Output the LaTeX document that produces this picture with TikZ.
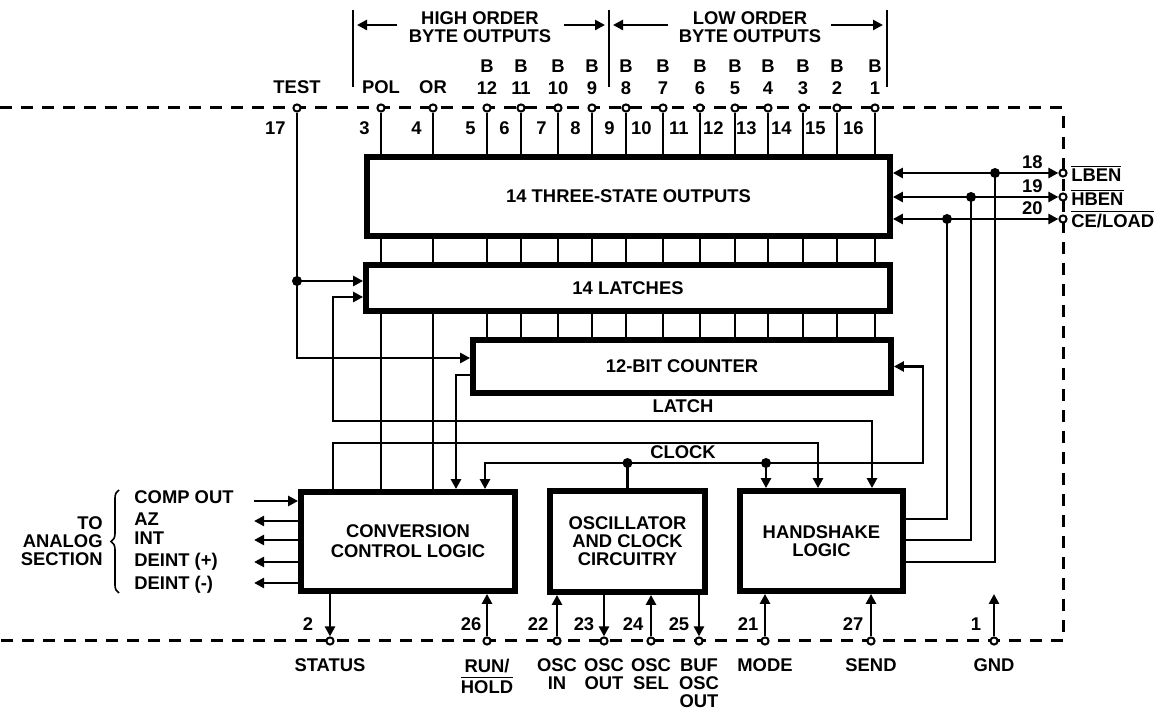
\documentclass[tikz,border=0pt]{standalone}
\usepackage{fontspec}
\setmainfont{Liberation Sans}
\usetikzlibrary{arrows.meta,decorations.pathreplacing}
\newcommand{\ovl}[1]{$\overline{\mbox{#1}}$}

\begin{document}
\begin{tikzpicture}[x=0.5pt,y=-0.5pt,font=\fontsize{9.2}{9}\selectfont\bfseries,
	line width=1.4pt,>={Triangle[length=5pt,width=5pt]},
	blk/.style={draw,line width=2.9pt,inner sep=0pt,align=center},
	pin/.style={circle,draw,fill=white,line width=1pt,inner sep=0pt,minimum size=3.6pt},
	dot/.style={circle,fill,inner sep=0pt,minimum size=5pt},
	lbl/.style={inner sep=0pt,text height=6.6pt,text depth=0pt},
	pkg/.style={dash pattern=on 6pt off 4.5pt,line width=1.5pt}]
\useasboundingbox (0,0) rectangle (1164,710);
\draw[pkg] (0,108) -- (1063,108) -- (1063,641) -- (0,641);

% blocks
\node[blk,minimum width=261.5pt,minimum height=39.5pt] (tso) at (628.5,196.5) {14 THREE-STATE OUTPUTS};
\node[blk,minimum width=262pt,minimum height=23pt] (lat) at (628,288) {14 LATCHES};
\node[blk,minimum width=209pt,minimum height=26.5pt] (cnt) at (682,366.5) {12-BIT COUNTER};
\node[blk,minimum width=107pt,minimum height=49.5pt] (ccl) at (408,541.5) {CONVERSION\\[1pt]CONTROL LOGIC};
\node[blk,minimum width=77.5pt,minimum height=50.5pt] (osc) at (627.5,541.5) {OSCILLATOR\\AND CLOCK\\CIRCUITRY};
\node[blk,minimum width=81.5pt,minimum height=50pt] (hsl) at (821.5,541) {HANDSHAKE\\LOGIC};

% top pins
\foreach \n/\x in {17/297,3/381,4/433,5/487,6/521,7/558,8/592,9/626,10/663,11/700,12/735,13/768,14/803,15/837,16/875}{
	\node[pin] (p\n) at (\x,108) {};
	\node[lbl,anchor=east] at (\x-10,128) {\n};
}
\node[lbl] at (297,87) {TEST};
\node[lbl] at (381,87) {POL};
\node[lbl] at (433,87) {OR};
\foreach \b/\x in {12/487,11/521,10/558,9/592,8/626,7/663,6/700,5/735,4/768,3/803,2/837,1/875}
	\node[align=center,anchor=north,inner sep=0pt] at (\x,58.4) {B\\[2pt]\b};
\draw (353,10) -- (353,87);
\draw (609,10) -- (609,87);
\draw (887,10) -- (887,87);
\draw[->] (397,25) -- (357,25);
\draw[->] (564,25) -- (605,25);
\draw[->] (668,25) -- (613,25);
\draw[->] (831,25) -- (883,25);
\node[align=center,anchor=north,inner sep=0pt] at (480,10.4) {HIGH ORDER\\BYTE OUTPUTS};
\node[align=center,anchor=north,inner sep=0pt] at (750,10.4) {LOW ORDER\\BYTE OUTPUTS};

% data lines
\foreach \n in {3,...,16}{
	\draw (p\n) -- (tso.north -| p\n);
	\draw (tso.south -| p\n) -- (lat.north -| p\n);
}
\foreach \n in {5,...,16} \draw (lat.south -| p\n) -- (cnt.north -| p\n);
\foreach \n in {3,4} \draw (lat.south -| p\n) -- (ccl.north -| p\n);

% right pins
\foreach \n/\y/\t in {18/173/LBEN,19/197/HBEN,20/219/{CE/LOAD}}{
	\node[pin] (p\n) at (1063,\y) {};
	\node[lbl,anchor=east] at (1044,\y-11) {\n};
	\node[lbl,anchor=west] at (1070,\y+2) {\ovl{\t}};
	\draw[<->] (tso.east |- p\n) -- (p\n);
}
\node[dot] (d18) at (995,173) {};
\node[dot] (d19) at (971,197) {};
\node[dot] (d20) at (947,219) {};
\draw (d18.center) |- (hsl.east |- 0,562);
\draw (d19.center) |- (hsl.east |- 0,540);
\draw (d20.center) |- (hsl.east |- 0,519);

% test input
\node[dot] (dt) at (297,281) {};
\draw (p17) -- (dt.center);
\draw[->] (dt.center) -- (lat.west |- dt);
\draw[->] (dt.center) |- (cnt.west |- 0,358);

% latch and control
\coordinate (lt) at (333,421);
\draw[<->] (lat.west |- 0,297) -| (lt) -| (hsl.north -| 872,0);
\node[lbl] at (683,406) {LATCH};
\coordinate (cc) at (333,443);
\draw[->] (ccl.north -| cc) -- (cc) -| (hsl.north -| 818,0);
\draw[->] (cnt.west |- 0,375) -| (ccl.north -| 456,0);

% clock
\node[dot] (dc1) at (627.5,463) {};
\node[dot] (dc2) at (766,463) {};
\coordinate (ck) at (923,463);
\draw (osc.north) -- (dc1.center);
\draw[->] (dc1.center) -| (ccl.north -| 485,0);
\draw[->] (dc1.center) -- (ck) |- (cnt.east);
\draw[->] (dc2.center) -- (hsl.north -| dc2);
\node[lbl] at (683,452) {CLOCK};

% bottom pins
\foreach \n/\x/\lx in {2/330/308,26/487/471,22/557/538,23/604/584,24/651/633,25/699/679,21/765/748,27/871/853,1/994/976}{
	\node[pin] (p\n) at (\x,641) {};
	\node[lbl] at (\lx,624) {\n};
}
\draw[->] (ccl.south -| p2) -- (p2);
\draw[->] (p26) -- (ccl.south -| p26);
\draw[->] (p22) -- (osc.south -| p22);
\draw[->] (osc.south -| p23) -- (p23);
\draw[->] (p24) -- (osc.south -| p24);
\draw[->] (osc.south -| p25) -- (p25);
\draw[->] (p21) -- (hsl.south -| p21);
\draw[->] (p27) -- (hsl.south -| p27);
\draw[->] (p1) -- ++(0,-47);
\foreach \x/\t in {330/STATUS,487/{RUN/\\[1.5pt]\ovl{HOLD}},557/{OSC\\IN},604/{OSC\\OUT},651/{OSC\\SEL},699/{BUF\\OSC\\OUT},765/MODE,871/SEND,994/GND}
	\node[align=center,anchor=north,inner sep=0pt] at (\x,657.5) {\t};

% analog section
\coordinate (cin) at (254,501);
\draw[->] (cin) -- (ccl.west |- cin);
\foreach \y in {521,540,562,583} \draw[->] (ccl.west |- 0,\y) -- ++(-44,0);
\node[lbl,anchor=west] at (133,497) {COMP OUT};
\foreach \y/\t in {519/AZ,538/INT,560/DEINT (+),583/DEINT (-)}
	\node[lbl,anchor=west] at (133,\y) {\t};
\draw[decorate,decoration={brace,amplitude=4pt},line width=0.8pt] (119,593) -- (119,490);
\node[align=right,anchor=north east,inner sep=0pt] at (104,515.4) {TO\\ANALOG\\SECTION};
\end{tikzpicture}
\end{document}
